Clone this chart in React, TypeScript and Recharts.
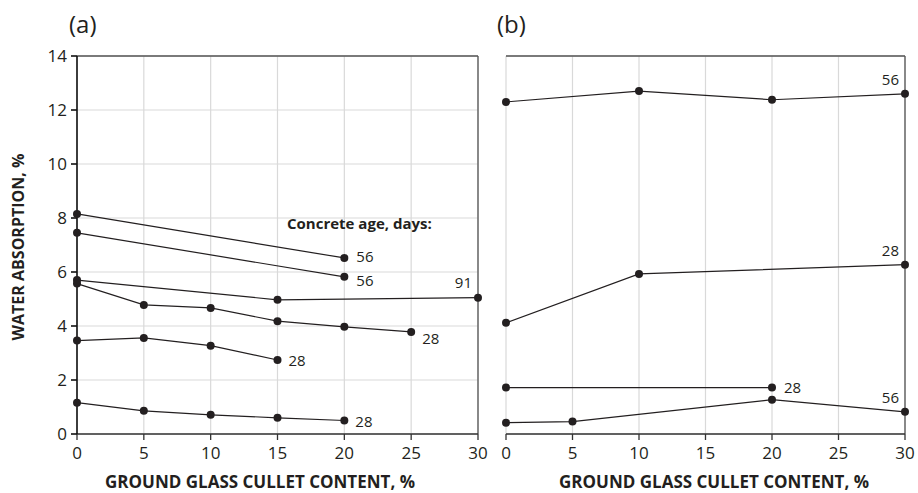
import React from 'react';
import { LineChart, Line, XAxis, YAxis, CartesianGrid, ReferenceLine } from 'recharts';

// x positions (ground glass cullet content, %)
const xTicks = [0, 5, 10, 15, 20, 25, 30];
const yTicks = [0, 2, 4, 6, 8, 10, 12, 14];

// panel (a)
const a1X = [0, 20];
const a1Y = [8.15, 6.52];
const a2X = [0, 20];
const a2Y = [7.45, 5.82];
const a3X = [0, 15, 30];
const a3Y = [5.7, 4.97, 5.05];
const a4X = [0, 5, 10, 15, 20, 25];
const a4Y = [5.57, 4.78, 4.67, 4.18, 3.97, 3.78];
const a5X = [0, 5, 10, 15];
const a5Y = [3.46, 3.56, 3.27, 2.74];
const a6X = [0, 5, 10, 15, 20];
const a6Y = [1.16, 0.86, 0.71, 0.6, 0.5];
const aAges = ['56', '56', '91', '28', '28', '28'];

// panel (b)
const b1X = [0, 10, 20, 30];
const b1Y = [12.3, 12.7, 12.38, 12.6];
const b2X = [0, 10, 30];
const b2Y = [4.12, 5.93, 6.27];
const b3X = [0, 20];
const b3Y = [1.72, 1.72];
const b4X = [0, 5, 20, 30];
const b4Y = [0.42, 0.46, 1.27, 0.82];
const bAges = ['56', '28', '28', '56'];

const zip = (xs: number[], ys: number[]) => xs.map((x, i) => ({ x, y: ys[i] }));

const FONT = '"Open Sans", sans-serif';
const INK = '#231f20';

// label offsets for the end-of-line age labels (style only)
const aLabelPos = [
  { dx: 12, dy: 4, anchor: 'start' },
  { dx: 12, dy: 9, anchor: 'start' },
  { dx: -6, dy: -10, anchor: 'end' },
  { dx: 11, dy: 12, anchor: 'start' },
  { dx: 11, dy: 6, anchor: 'start' },
  { dx: 11, dy: 6, anchor: 'start' },
];
const bLabelPos = [
  { dx: -6, dy: -9, anchor: 'end' },
  { dx: -6, dy: -9, anchor: 'end' },
  { dx: 12, dy: 5, anchor: 'start' },
  { dx: -6, dy: -9, anchor: 'end' },
];

const endLabel = (text: string, last: number, pos: { dx: number; dy: number; anchor: string }) =>
  (props: any) => {
    if (props.index !== last) return <g />;
    return (
      <text
        x={props.x + pos.dx}
        y={props.y + pos.dy}
        textAnchor={pos.anchor}
        fontSize={15}
        fontFamily={FONT}
        fill={INK}
      >
        {text}
      </text>
    );
  };

const Panel = ({
  series,
  ages,
  labelPos,
  showYTicks,
  width,
  margin,
}: {
  series: { x: number; y: number }[][];
  ages: string[];
  labelPos: { dx: number; dy: number; anchor: string }[];
  showYTicks: boolean;
  width: number;
  margin: { top: number; right: number; bottom: number; left: number };
}) => (
  <LineChart width={width} height={493} margin={margin}>
    <CartesianGrid stroke="#d9d9d9" strokeWidth={1.2} />
    <XAxis
      type="number"
      dataKey="x"
      domain={[0, 30]}
      ticks={xTicks}
      interval={0}
      allowDuplicatedCategory={false}
      tick={{ fontSize: 17, fill: INK, fontFamily: FONT }}
      tickSize={6}
      tickMargin={7}
      stroke="#333"
      strokeWidth={1.3}
      height={59}
    />
    <YAxis
      type="number"
      dataKey="y"
      domain={[0, 14]}
      ticks={yTicks}
      interval={0}
      tick={showYTicks ? { fontSize: 17, fill: INK, fontFamily: FONT } : false}
      tickLine={showYTicks}
      tickSize={6}
      tickMargin={4}
      stroke="#111"
      strokeWidth={1.6}
      width={showYTicks ? 77 : 0}
    />
    <ReferenceLine y={14} stroke="#555" strokeWidth={1.3} />
    <ReferenceLine x={30} stroke="#555" strokeWidth={1.3} />
    {series.map((d, i) => (
      <Line
        key={i}
        data={d}
        dataKey="y"
        type="linear"
        stroke={INK}
        strokeWidth={1.2}
        dot={{ r: 4, fill: INK, stroke: INK, strokeWidth: 0 }}
        isAnimationActive={false}
        label={endLabel(ages[i], d.length - 1, labelPos[i])}
      />
    ))}
  </LineChart>
);

export default function App() {
  const seriesA = [zip(a1X, a1Y), zip(a2X, a2Y), zip(a3X, a3Y), zip(a4X, a4Y), zip(a5X, a5Y), zip(a6X, a6Y)];
  const seriesB = [zip(b1X, b1Y), zip(b2X, b2Y), zip(b3X, b3Y), zip(b4X, b4Y)];
  return (
    <div style={{ position: 'absolute', left: 0, top: 0, width: 918, height: 493, overflow: 'hidden', background: '#fff', fontFamily: FONT, color: INK }}>
      <div style={{ position: 'absolute', left: 0, top: 0 }}>
        <Panel
          series={seriesA}
          ages={aAges}
          labelPos={aLabelPos}
          showYTicks
          width={490}
          margin={{ top: 56, right: 12, bottom: 0, left: 0 }}
        />
      </div>
      <div style={{ position: 'absolute', left: 490, top: 0 }}>
        <Panel
          series={seriesB}
          ages={bAges}
          labelPos={bLabelPos}
          showYTicks={false}
          width={428}
          margin={{ top: 56, right: 13, bottom: 0, left: 16 }}
        />
      </div>
      <div style={{ position: 'absolute', left: 69, top: 8, fontSize: 24, lineHeight: '32px' }}>(a)</div>
      <div style={{ position: 'absolute', left: 497, top: 8, fontSize: 24, lineHeight: '32px' }}>(b)</div>
      <div style={{ position: 'absolute', left: 287, top: 212, fontSize: 15, lineHeight: '22px', fontWeight: 700 }}>Concrete age, days:</div>
      <div style={{ position: 'absolute', left: 77, width: 366, top: 471, lineHeight: '22px', textAlign: 'center', fontSize: 17, fontWeight: 700, whiteSpace: 'nowrap' }}>
        GROUND GLASS CULLET CONTENT, %
      </div>
      <div style={{ position: 'absolute', left: 506, width: 416, top: 471, lineHeight: '22px', textAlign: 'center', fontSize: 17, fontWeight: 700, whiteSpace: 'nowrap' }}>
        GROUND GLASS CULLET CONTENT, %
      </div>
      <div
        style={{
          position: 'absolute',
          left: 18,
          top: 247,
          transform: 'translate(-50%, -50%) rotate(-90deg)',
          fontSize: 16,
          fontWeight: 700,
          whiteSpace: 'nowrap',
        }}
      >
        WATER ABSORPTION, %
      </div>
    </div>
  );
}
